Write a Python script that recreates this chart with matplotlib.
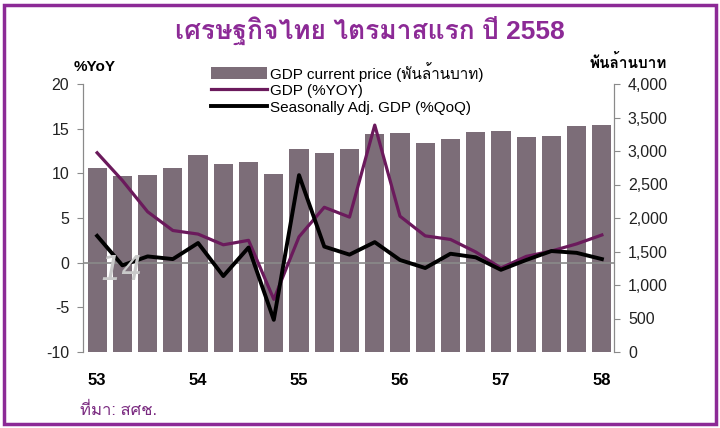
import numpy as np
import matplotlib
matplotlib.use("Agg")
import matplotlib.pyplot as plt
from matplotlib import font_manager as fm
from matplotlib.ft2font import FT2Font
from matplotlib.patches import Rectangle, Patch
from matplotlib.lines import Line2D
from matplotlib.ticker import FuncFormatter


# data: quarters 2553Q1 .. 2558Q1
quarters = list(range(21))
year_labels = ["53", "54", "55", "56", "57", "58"]
year_pos = [0, 4, 8, 12, 16, 20]

gdp_value = [2742, 2632, 2647, 2742, 2940, 2801, 2840, 2657, 3033, 2974, 3033,
             3247, 3271, 3113, 3182, 3286, 3301, 3203, 3222, 3366, 3386]
gdp_yoy = [12.3, 9.2, 5.7, 3.6, 3.2, 2.0, 2.5, -4.1, 2.9, 6.2, 5.1,
           15.4, 5.2, 3.0, 2.6, 1.2, -0.6, 0.7, 1.3, 2.1, 3.1]
gdp_qoq = [3.0, -0.3, 0.7, 0.4, 2.2, -1.5, 1.7, -6.4, 9.8, 1.8, 0.9,
           2.3, 0.3, -0.6, 1.0, 0.6, -0.8, 0.3, 1.3, 1.1, 0.4]

title = "เศรษฐกิจไทย ไตรมาสแรก ปี 2558"
legend_labels = ["GDP current price (พันล้านบาท)", "GDP (%YOY)",
                 "Seasonally Adj. GDP (%QoQ)"]
source = "ที่มา: สศช."


# find some installed font that has Thai glyphs
def has_thai(path):
    try:
        return 0x0E01 in FT2Font(path).get_charmap()
    except Exception:
        return False


thai_font = None
for f in fm.fontManager.ttflist:
    if has_thai(f.fname):
        thai_font = f.name
        break

fam = ["Liberation Sans"]
if thai_font:
    fam = ["Liberation Sans", thai_font]
plt.rcParams["font.family"] = fam
plt.rcParams["axes.unicode_minus"] = False

purple = "#8c2a96"
bar_col = "#7c6d78"
line_col = "#6b1a5c"

fig = plt.figure(figsize=(7.2, 4.28), dpi=100)
fig.patch.set_facecolor("white")

# purple frame round the whole picture
fig.patches.append(Rectangle((4 / 720, 4 / 428), 712 / 720, 419 / 428,
                             transform=fig.transFigure, fill=False,
                             edgecolor=purple, lw=2.5))

ax = fig.add_axes([83 / 720, 1 - 352 / 428, 531 / 720, 268 / 428])
axr = ax.twinx()
ax.set_zorder(axr.get_zorder() + 1)
ax.patch.set_visible(False)

# bars on the right axis
axr.bar(quarters, gdp_value, width=0.76, color=bar_col, zorder=1)
axr.set_ylim(0, 4000)
axr.set_yticks(np.arange(0, 4001, 500))
axr.yaxis.set_major_formatter(FuncFormatter(lambda v, p: f"{int(v):,}"))

# lines on the left axis
ax.axhline(0, color="#8a8a8a", lw=1.2, zorder=2)
ax.plot(quarters, gdp_yoy, color=line_col, lw=2.3, zorder=3)
ax.plot(quarters, gdp_qoq, color="black", lw=2.8, zorder=4)
ax.set_ylim(-10, 20)
ax.set_yticks(np.arange(-10, 21, 5))
ax.set_xlim(-0.56, 20.48)
ax.set_xticks(year_pos)
ax.set_xticklabels(year_labels, fontsize=12, fontweight="bold")
ax.tick_params(axis="x", length=0, pad=15)

for a in (ax, axr):
    for s in ("top", "bottom"):
        a.spines[s].set_visible(False)
    a.spines["left"].set_color("#8a8a8a")
    a.spines["right"].set_color("#8a8a8a")
ax.tick_params(axis="y", labelsize=11.5, length=4, color="#8a8a8a", pad=6,
               labelcolor="#222222")
axr.tick_params(axis="y", labelsize=11.5, length=4, color="#8a8a8a", pad=6,
                labelcolor="#222222")
axr.tick_params(axis="x", length=0, labelbottom=False)

# legend
handles = [Patch(facecolor=bar_col, edgecolor="none"),
           Line2D([], [], color=line_col, lw=2.3),
           Line2D([], [], color="black", lw=2.8)]
fig.legend(handles, legend_labels, loc="upper left",
           bbox_to_anchor=(203 / 720, 1 - 54 / 428), frameon=False,
           fontsize=11, handlelength=3.7, handleheight=0.8,
           handletextpad=0.2, labelspacing=0.15, borderpad=0)

# texts
fig.text(370 / 720, 1 - 30 / 428, title, ha="center", va="center",
         fontsize=19, fontweight="bold", color=purple)
fig.text(95 / 720, 1 - 67 / 428, "%YoY", ha="center", va="center",
         fontsize=11, fontweight="bold")
fig.text(628 / 720, 1 - 62 / 428, "พันล้านบาท", ha="center", va="center",
         fontsize=11, fontweight="bold")
fig.text(80 / 720, 1 - 410 / 428, source, ha="left", va="center",
         fontsize=12, color="#7a2a80")
fig.text(100 / 720, 1 - 271 / 428, "14", ha="left", va="center",
         fontsize=24, style="italic", family="DejaVu Sans", color="#c9c9c9",
         zorder=10)

fig.savefig("out.png", dpi=100)
